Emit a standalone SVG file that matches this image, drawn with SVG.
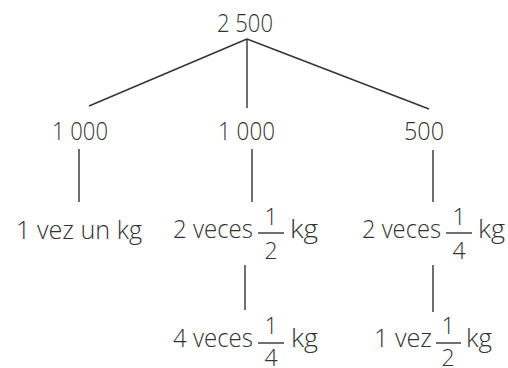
<svg xmlns="http://www.w3.org/2000/svg" width="508" height="368" viewBox="0 0 508 368">
<style>
text{font-family:"Open Sans","Noto Sans","Liberation Sans",sans-serif;font-weight:300;font-size:25px;fill:#333;}
.fr{font-size:23px;text-anchor:middle;}
.edge{stroke:#333;stroke-width:1.4;fill:none;}
.bar{stroke:#333;stroke-width:1.4;}
</style>
<rect width="508" height="368" fill="#fff"/>
<g id="connectors">
<line class="edge" x1="247" y1="39" x2="89" y2="106"/>
<line class="edge" x1="247" y1="39" x2="247" y2="108"/>
<line class="edge" x1="247" y1="39" x2="429" y2="109"/>
<line class="edge" x1="79" y1="149" x2="79" y2="202"/>
<line class="edge" x1="252" y1="149" x2="252" y2="202"/>
<line class="edge" x1="433" y1="150" x2="433" y2="202"/>
<line class="edge" x1="245" y1="265" x2="245" y2="310"/>
<line class="edge" x1="433" y1="265" x2="433" y2="312"/>
</g>
<g id="n2500"><text x="217" y="32" textLength="56" lengthAdjust="spacingAndGlyphs">2 500</text></g>
<g id="n1000a"><text x="52" y="140" textLength="56" lengthAdjust="spacingAndGlyphs">1 000</text></g>
<g id="n1000b"><text x="218" y="140" textLength="57" lengthAdjust="spacingAndGlyphs">1 000</text></g>
<g id="n500"><text x="404" y="140" textLength="40" lengthAdjust="spacingAndGlyphs">500</text></g>
<g id="n1vez"><text x="16" y="239" textLength="126" lengthAdjust="spacingAndGlyphs">1 vez un kg</text></g>
<g id="n2veces12">
<text x="173" y="238" textLength="80" lengthAdjust="spacingAndGlyphs">2 veces</text>
<text class="fr" x="271" y="225">1</text>
<line class="bar" x1="258" y1="233" x2="284" y2="233"/>
<text class="fr" x="271" y="259">2</text>
<text x="290" y="238" textLength="28" lengthAdjust="spacingAndGlyphs">kg</text>
</g>
<g id="n2veces14">
<text x="362" y="238" textLength="79" lengthAdjust="spacingAndGlyphs">2 veces</text>
<text class="fr" x="459" y="225">1</text>
<line class="bar" x1="446" y1="233" x2="472" y2="233"/>
<text class="fr" x="459" y="259">4</text>
<text x="478" y="238" textLength="27" lengthAdjust="spacingAndGlyphs">kg</text>
</g>
<g id="n4veces14">
<text x="173" y="347" textLength="80" lengthAdjust="spacingAndGlyphs">4 veces</text>
<text class="fr" x="271" y="334">1</text>
<line class="bar" x1="258" y1="343" x2="284" y2="343"/>
<text class="fr" x="271" y="366">4</text>
<text x="291" y="347" textLength="27" lengthAdjust="spacingAndGlyphs">kg</text>
</g>
<g id="n1vez12">
<text x="374" y="347" textLength="58" lengthAdjust="spacingAndGlyphs">1 vez</text>
<text class="fr" x="448" y="334">1</text>
<line class="bar" x1="436" y1="343" x2="461" y2="343"/>
<text class="fr" x="448" y="366">2</text>
<text x="466" y="347" textLength="26" lengthAdjust="spacingAndGlyphs">kg</text>
</g>
</svg>
